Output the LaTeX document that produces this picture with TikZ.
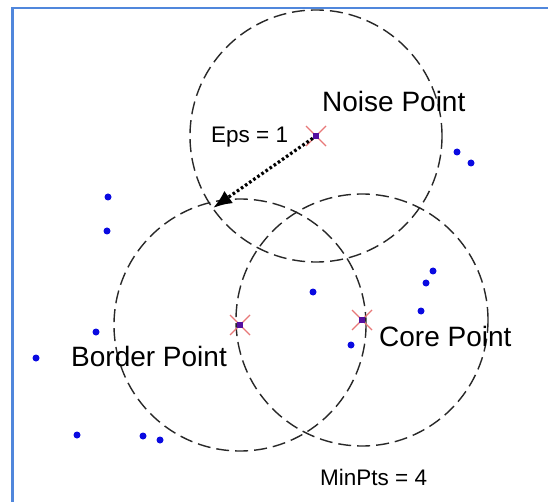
\documentclass[tikz,border=0pt]{standalone}
\usepackage{fontspec}
\setmainfont{Liberation Sans}
\usetikzlibrary{arrows.meta}
\definecolor{frameblue}{RGB}{80,135,220}
\definecolor{dotblue}{RGB}{10,10,225}
\definecolor{crossred}{RGB}{232,120,120}
\definecolor{sqpurple}{RGB}{85,15,160}
\definecolor{circgray}{RGB}{40,40,40}
\begin{document}
\begin{tikzpicture}[x=1pt,y=-1pt,
  dot/.style={circle,fill=dotblue,inner sep=0pt,minimum size=7pt},
  ptsq/.style={rectangle,fill=sqpurple,inner sep=0pt,minimum size=6pt},
  eps/.style={circle,draw=circgray,line width=1.4pt,dash pattern=on 13pt off 6pt,inner sep=0pt,minimum size=252pt},
  bigtxt/.style={anchor=base west,inner sep=0pt,font=\fontsize{28}{30}\selectfont},
  smalltxt/.style={anchor=base west,inner sep=0pt,font=\fontsize{22.5}{24}\selectfont},
  crossline/.style={draw=crossred,line width=1.3pt}
]
\useasboundingbox (0,0) rectangle (548,502);
\fill[white] (0,0) rectangle (548,502);
% frame
\coordinate (fbl) at (12.5,502);
\coordinate (ftl) at (12.5,8);
\coordinate (ftr) at (548,8);
\draw[frameblue,line width=2.2pt] (fbl) -- (ftl) -- (ftr);

% eps circles
\node[eps] (cn) at (316,136) {};
\node[eps] (cb) at (240,325) {};
\node[eps] (cc) at (362,320) {};

% blue points
\foreach \n/\x/\y in {d1/457/152, d2/471/163, d3/433/271, d4/426/283, d5/421/311,
  d6/108/197, d7/107/231, d8/96/332, d9/36/358, d10/77/435, d11/143/436, d12/160/440,
  d13/313/292, d14/351/345}
  \node[dot] (\n) at (\x,\y) {};

% marked points
\foreach \n/\x/\y in {noise/316/136, border/240/325, core/362/320}{
  \draw[crossline] (\x-10,\y-10) -- (\x+10,\y+10) (\x-10,\y+10) -- (\x+10,\y-10);
  \node[ptsq] (\n) at (\x,\y) {};
}

% eps arrow
\coordinate (tip) at (213,208);
\draw[line width=3.2pt,dash pattern=on 2.6pt off 2.4pt,-{Latex[length=19pt,width=15pt]}] (noise) -- (tip);

% labels
\node[bigtxt] (lnoise) at (322,112) {Noise Point};
\node[bigtxt] (lborder) at (71,366) {Border Point};
\node[bigtxt] (lcore) at (379,346) {Core Point};
\node[smalltxt] (leps) at (211,143) {Eps = 1};
\node[smalltxt] (lmin) at (320,485) {MinPts = 4};
\end{tikzpicture}
\end{document}
